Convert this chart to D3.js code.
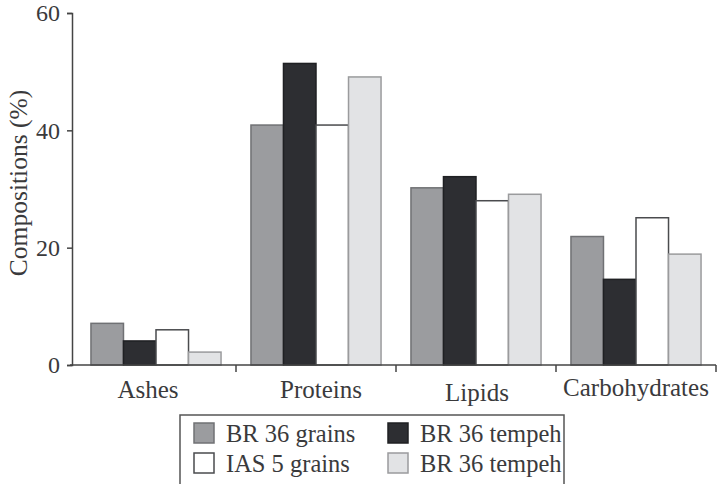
<!DOCTYPE html>
<html lang="en">
<head>
<meta charset="utf-8"/>
<title>Compositions</title>
<script src="https://d3js.org/d3.v7.min.js"></script>
<style>
  body { margin: 0; background: #fff; }
  text { font-family: "Liberation Serif", "Times New Roman", Tinos, Times, serif; fill: #3a3a3c; }
</style>
</head>
<body>
<div id="chart"></div>
<script>
// data
var categories = ["Ashes", "Proteins", "Lipids", "Carbohydrates"];
var seriesNames = ["BR 36 grains", "BR 36 tempeh", "IAS 5 grains", "BR 36 tempeh"];
var br36Grains = [7.1, 40.9, 30.2, 21.9];
var br36Tempeh = [4.1, 51.4, 32.1, 14.6];
var ias5Grains = [6.0, 40.9, 28.0, 25.1];
var br36Tempeh2 = [2.2, 49.1, 29.1, 18.9];
var yTicks = [0, 20, 40, 60];

var fills = ["#9b9c9f", "#2d2e32", "#ffffff", "#e2e3e5"];
var strokes = ["#707174", "#1f2023", "#4a4b4e", "#9a9b9d"];

var w = 719, h = 484;
var values = [br36Grains, br36Tempeh, ias5Grains, br36Tempeh2];
var serif = "'Liberation Serif', 'Times New Roman', Tinos, Times, serif";

var svg = d3.select("#chart").append("svg")
    .attr("width", w).attr("height", h);

var y = d3.scaleLinear().domain([0, 60]).range([365, 13]);
var x0 = d3.scaleBand().domain(categories).range([76, 716]);
var x1 = d3.scaleBand().domain(d3.range(4)).range([0, x0.bandwidth()]).paddingOuter(0.46);

// bars
var groups = svg.selectAll("g.cat")
    .data(categories)
    .enter().append("g")
    .attr("class", "cat")
    .attr("transform", function(d) { return "translate(" + x0(d) + ",0)"; });

groups.selectAll("rect")
    .data(function(d, ci) { return values.map(function(s, si) { return {si: si, v: s[ci]}; }); })
    .enter().append("rect")
    .attr("x", function(d) { return x1(d.si); })
    .attr("width", x1.bandwidth())
    .attr("y", function(d) { return y(d.v); })
    .attr("height", function(d) { return y(0) - y(d.v); })
    .attr("fill", function(d) { return fills[d.si]; })
    .attr("stroke", function(d) { return strokes[d.si]; })
    .attr("stroke-width", 1.5);

// y axis
var yAxis = svg.append("g")
    .attr("transform", "translate(72,0)")
    .call(d3.axisLeft(y).tickValues(yTicks).tickSize(5).tickPadding(7));
yAxis.attr("font-family", null);
yAxis.select(".domain").attr("stroke", "#444").attr("stroke-width", 1.5);
yAxis.selectAll(".tick line").attr("stroke", "#444").attr("stroke-width", 1.5);
yAxis.selectAll(".tick text")
    .style("font-family", serif)
    .attr("font-size", 24).attr("fill", "#3a3a3c");

// x axis line and ticks at band ends
svg.append("line")
    .attr("x1", 70).attr("x2", x0.range()[1])
    .attr("y1", y(0)).attr("y2", y(0))
    .attr("stroke", "#444").attr("stroke-width", 1.5);

svg.selectAll("line.xtick")
    .data(categories)
    .enter().append("line")
    .attr("class", "xtick")
    .attr("x1", function(d) { return x0(d) + x0.bandwidth(); })
    .attr("x2", function(d) { return x0(d) + x0.bandwidth(); })
    .attr("y1", y(0)).attr("y2", y(0) + 7)
    .attr("stroke", "#444").attr("stroke-width", 1.5);

// label nudges as in the original figure
var labelDx = [-8, 5, 1, 0];
var labelDy = [0, 0, 3, -2];
svg.selectAll("text.xlab")
    .data(categories)
    .enter().append("text")
    .attr("class", "xlab")
    .attr("x", function(d, i) { return x0(d) + x0.bandwidth() / 2 + labelDx[i]; })
    .attr("y", function(d, i) { return 398 + labelDy[i]; })
    .attr("text-anchor", "middle")
    .attr("font-size", 25)
    .text(function(d) { return d; });

// y title
svg.append("text")
    .attr("transform", "translate(27,183) rotate(-90)")
    .attr("text-anchor", "middle")
    .attr("font-size", 25.5)
    .text("Compositions (%)");

// legend
svg.append("rect")
    .attr("x", 180).attr("y", 415)
    .attr("width", 384).attr("height", 80)
    .attr("fill", "none").attr("stroke", "#555").attr("stroke-width", 1.5);

var legend = svg.selectAll("g.leg")
    .data(seriesNames)
    .enter().append("g")
    .attr("class", "leg")
    .attr("transform", function(d, i) {
        return "translate(" + (i % 2 === 0 ? 194 : 388) + "," + (i < 2 ? 423 : 453) + ")";
    });

legend.append("rect")
    .attr("width", 20).attr("height", 20)
    .attr("fill", function(d, i) { return fills[i]; })
    .attr("stroke", function(d, i) { return strokes[i]; })
    .attr("stroke-width", 1.5);

legend.append("text")
    .attr("x", 32).attr("y", 19)
    .attr("font-size", 24.5)
    .text(function(d) { return d; });
</script>
</body>
</html>
